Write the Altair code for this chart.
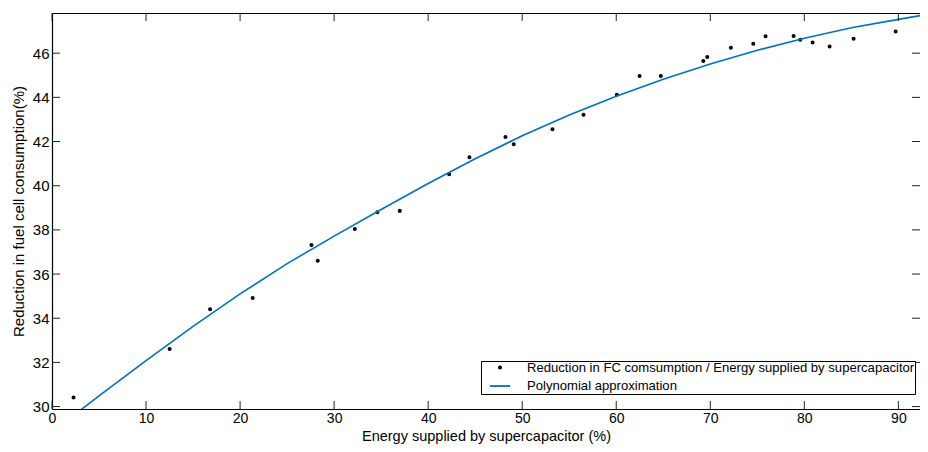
import altair as alt
import pandas as pd

# Measured points (energy supplied by supercapacitor %, reduction in FC consumption %)
energy = [2.29, 12.51, 16.81, 21.34, 27.59, 28.26, 32.2, 34.6, 36.98, 42.23,
          44.39, 48.22, 49.1, 53.22, 56.52, 60.06, 62.48, 64.74, 69.26, 69.68,
          72.19, 74.57, 75.88, 78.86, 79.57, 80.88, 82.69, 85.24, 89.71]
reduction = [30.41, 32.61, 34.41, 34.92, 37.31, 36.60, 38.04, 38.80, 38.86, 40.52,
             41.29, 42.21, 41.88, 42.56, 43.21, 44.12, 44.97, 44.97, 45.65, 45.83,
             46.25, 46.43, 46.77, 46.78, 46.61, 46.48, 46.30, 46.65, 46.98]

# Polynomial approximation curve
poly_x = [2.35, 5, 10, 15, 20, 25, 30, 35, 40, 45, 50, 55, 60, 65, 70, 75, 80, 85, 90, 93]
poly_y = [29.62, 30.48, 32.08, 33.63, 35.10, 36.47, 37.72, 38.92, 40.10, 41.22,
          42.26, 43.20, 44.05, 44.82, 45.51, 46.13, 46.68, 47.15, 47.53, 47.75]

x_ticks = [0, 10, 20, 30, 40, 50, 60, 70, 80, 90]
y_ticks = [30, 32, 34, 36, 38, 40, 42, 44, 46]

s_pts = "Reduction in FC comsumption / Energy supplied by supercapacitor"
s_fit = "Polynomial approximation"

pts = pd.DataFrame({"x": energy, "y": reduction, "series": s_pts})
fit = pd.DataFrame({"x": poly_x, "y": poly_y, "series": s_fit})
xt = pd.DataFrame({"t": x_ticks})
yt = pd.DataFrame({"t": y_ticks})

FONT = "Liberation Sans"
BLUE = "#0072BD"
W, H, TL = 868, 396, 8

xscale = alt.Scale(domain=[0, 92.3], nice=False, zero=False)
yscale = alt.Scale(domain=[29.89, 47.82], nice=False, zero=False)
series_dom = [s_pts, s_fit]
cscale = alt.Scale(domain=series_dom, range=["black", BLUE])
shscale = alt.Scale(domain=series_dom, range=["circle", "stroke"])
szscale = alt.Scale(domain=series_dom, range=[5, 400])

legend = alt.Legend(
    title=None, orient="none", legendX=429, legendY=348,
    strokeColor="black", fillColor="white", padding=0, cornerRadius=0,
    symbolStrokeWidth=1.8, symbolOffset=8, labelOffset=16, rowPadding=-2.5,
    labelFont=FONT, labelFontSize=13.1, labelColor="black", labelLimit=0,
)

x_bottom = alt.Axis(orient="bottom", values=x_ticks, title="Energy supplied by supercapacitor (%)",
                    ticks=False, labelPadding=2, labelFlush=False, labelFontSize=14,
                    titleFontSize=14.5, titleBaseline="alphabetic", titleY=31.5)
y_left = alt.Axis(orient="left", values=y_ticks, title="Reduction in fuel cell consumption(%)",
                  ticks=False, labelPadding=3, labelFlush=False, titlePadding=6)
x_top = alt.Axis(orient="top", values=x_ticks, labels=False, title=None, ticks=False)

points = alt.Chart(pts).mark_point(filled=False, strokeWidth=1.8, opacity=1).encode(
    x=alt.X("x:Q", scale=xscale, axis=x_bottom),
    y=alt.Y("y:Q", scale=yscale, axis=y_left),
    color=alt.Color("series:N", scale=cscale, legend=legend),
    shape=alt.Shape("series:N", scale=shscale, legend=legend),
    size=alt.Size("series:N", scale=szscale, legend=legend),
)

line = alt.Chart(fit).mark_line(strokeWidth=1.6, clip=True).encode(
    x=alt.X("x:Q", scale=xscale, axis=None),
    y=alt.Y("y:Q", scale=yscale, axis=None),
    color=alt.Color("series:N", scale=cscale, legend=legend),
)

frame = alt.Chart(pts).mark_point(opacity=0).encode(
    x=alt.X("x:Q", scale=xscale, axis=x_top),
    y=alt.Y("y:Q", scale=yscale, axis=None),
)

tick_style = dict(color="#222", strokeWidth=1)
bt = alt.Chart(xt).mark_rule(**tick_style).encode(
    x=alt.X("t:Q", scale=xscale, axis=None), y=alt.value(H), y2=alt.value(H - TL))
tt = alt.Chart(xt).mark_rule(**tick_style).encode(
    x=alt.X("t:Q", scale=xscale, axis=None), y=alt.value(0), y2=alt.value(TL))
lt = alt.Chart(yt).mark_rule(**tick_style).encode(
    y=alt.Y("t:Q", scale=yscale, axis=None), x=alt.value(0), x2=alt.value(TL))
rt = alt.Chart(yt).mark_rule(**tick_style).encode(
    y=alt.Y("t:Q", scale=yscale, axis=None), x=alt.value(W), x2=alt.value(W - TL))

chart = alt.layer(points, line, frame, bt, tt, lt, rt).resolve_axis(
    x="independent", y="independent"
).properties(
    width=W, height=H,
    padding={"left": 44, "top": 5, "right": 0, "bottom": 35},
    autosize=alt.AutoSizeParams(type="none"),
).configure_view(stroke=None).configure_axis(
    labelFont=FONT, labelFontSize=15, labelColor="black",
    titleFont=FONT, titleFontSize=15, titleFontWeight="normal", titleColor="black",
    domainColor="black", domainWidth=1.2, grid=False,
)

chart.save("out.html", embed_options={"renderer": "svg", "actions": False})
